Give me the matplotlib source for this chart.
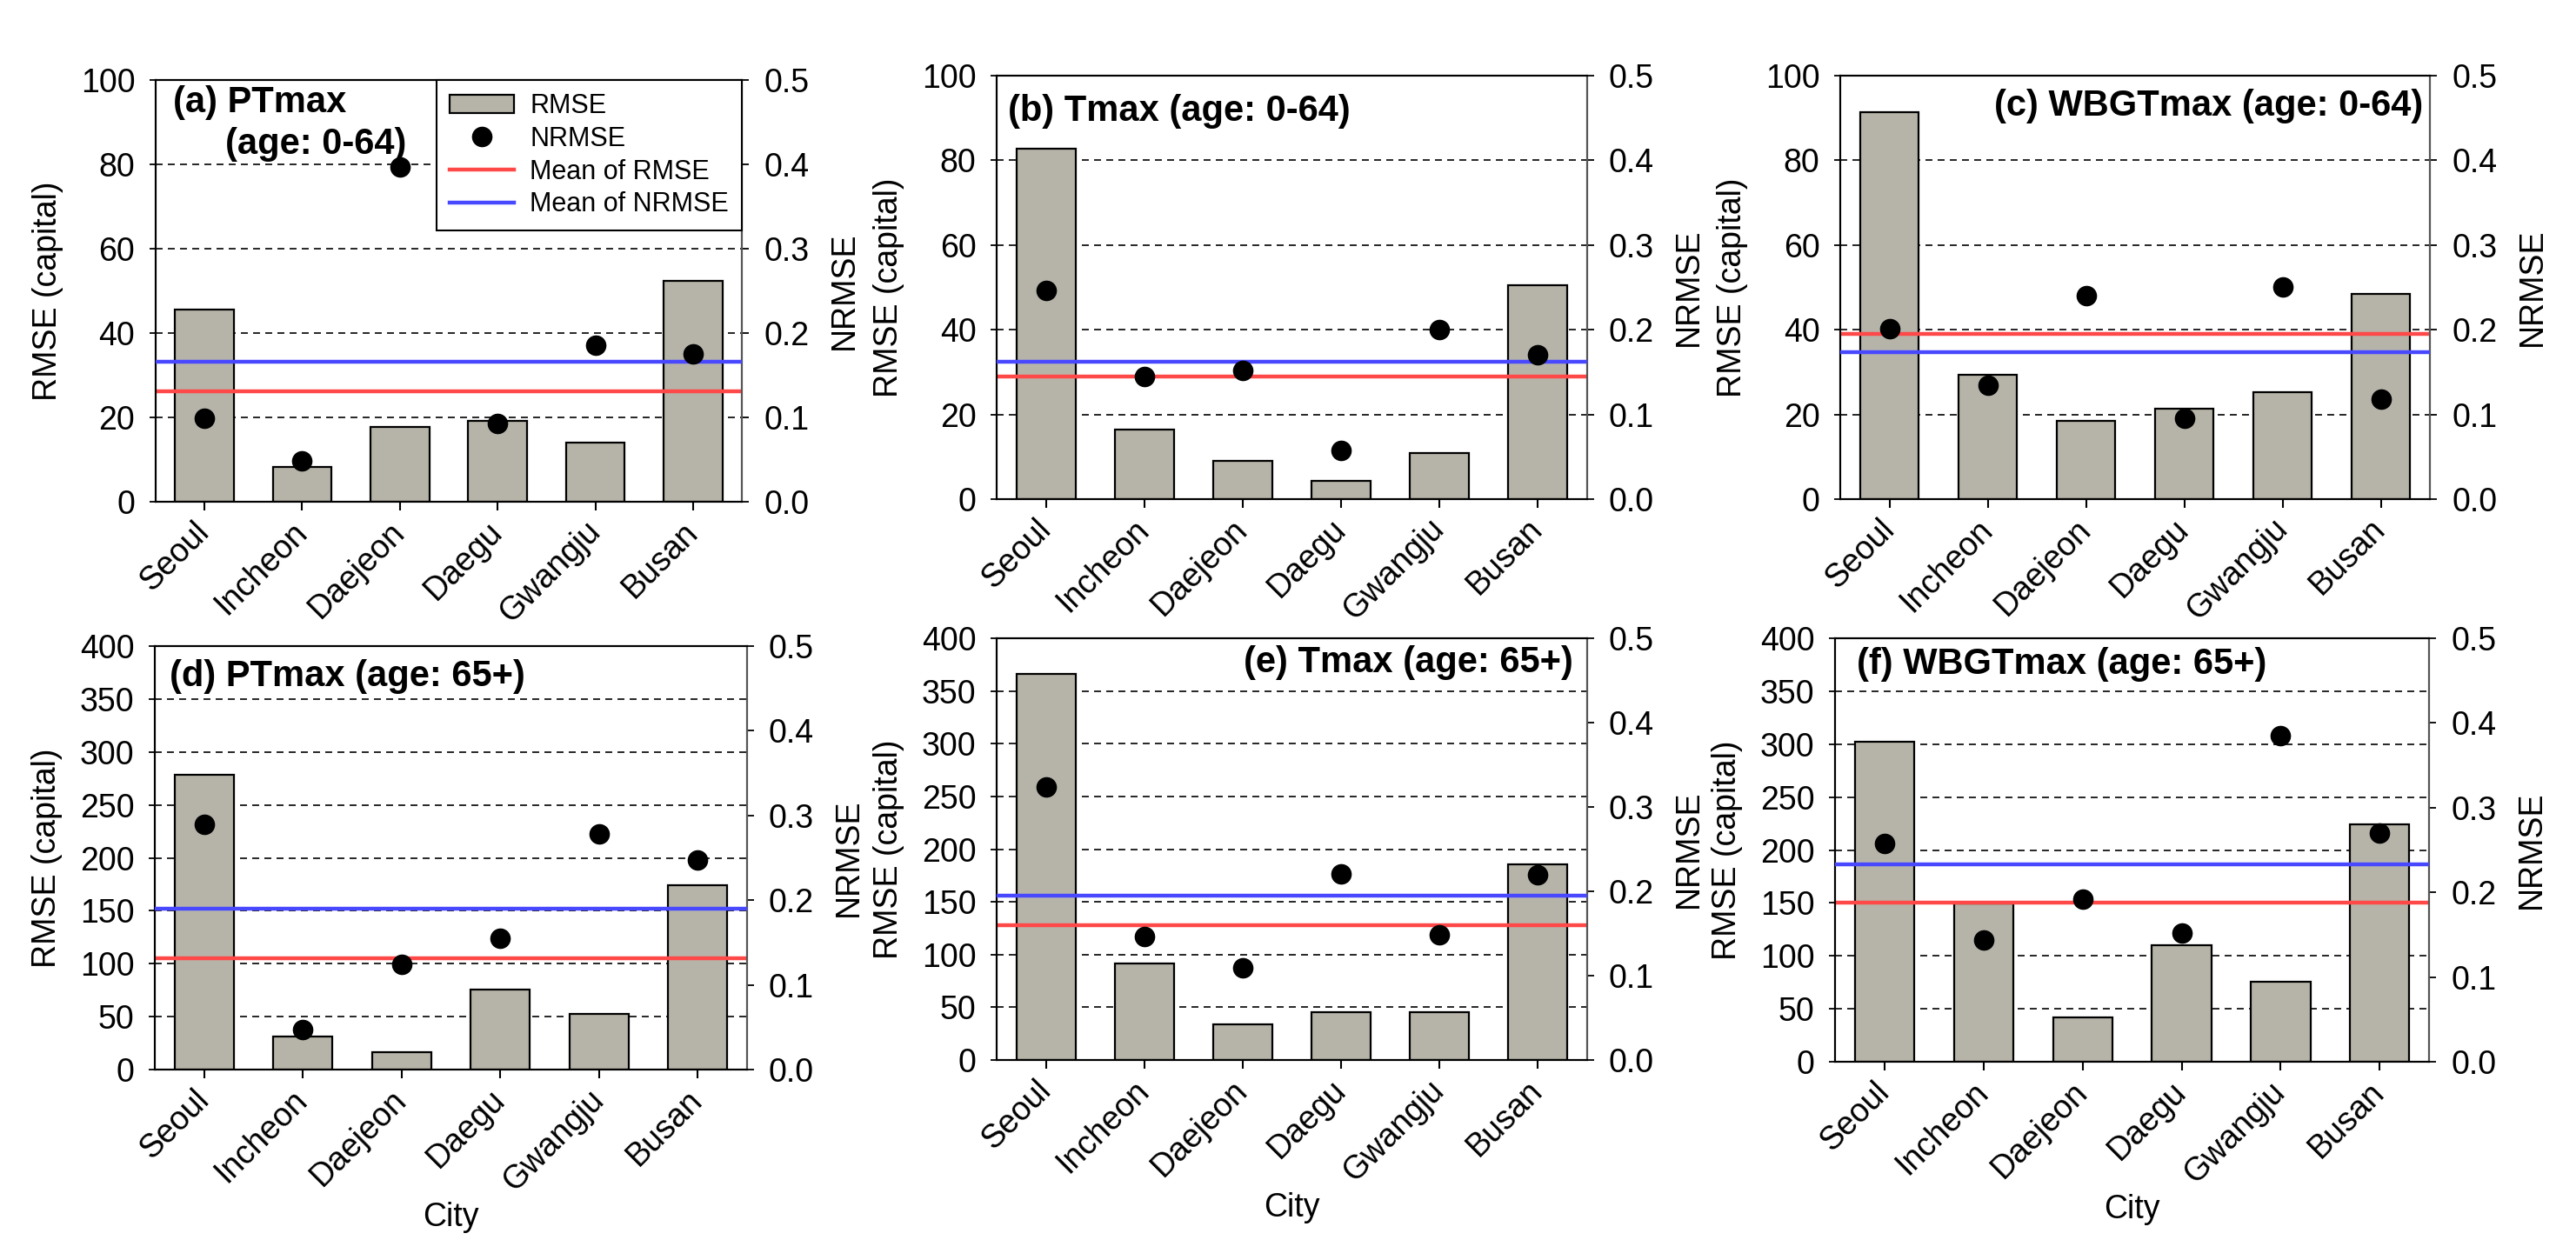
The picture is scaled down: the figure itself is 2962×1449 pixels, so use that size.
import matplotlib
matplotlib.use('Agg')
import matplotlib.pyplot as plt
from matplotlib.ticker import FormatStrFormatter, MultipleLocator
import numpy as np

plt.rcParams['font.family'] = ['Liberation Sans', 'DejaVu Sans']

cities = ['Seoul', 'Incheon', 'Daejeon', 'Daegu', 'Gwangju', 'Busan']

# age 0-64
rmse_ptmax_0_64 = [45.5, 8.3, 17.7, 19.2, 14.0, 52.4]
nrmse_ptmax_0_64 = [0.099, 0.048, 0.397, 0.093, 0.186, 0.175]
rmse_tmax_0_64 = [82.7, 16.4, 9.0, 4.2, 10.9, 50.4]
nrmse_tmax_0_64 = [0.246, 0.145, 0.152, 0.057, 0.200, 0.170]
rmse_wbgt_0_64 = [91.3, 29.4, 18.5, 21.4, 25.2, 48.4]
nrmse_wbgt_0_64 = [0.201, 0.134, 0.240, 0.095, 0.250, 0.118]

# age 65+
rmse_ptmax_65 = [278.7, 31.6, 16.8, 75.5, 53.0, 174.3]
nrmse_ptmax_65 = [0.290, 0.047, 0.124, 0.155, 0.278, 0.247]
rmse_tmax_65 = [366.6, 91.7, 34.1, 45.3, 45.3, 185.2]
nrmse_tmax_65 = [0.324, 0.146, 0.109, 0.221, 0.148, 0.220]
rmse_wbgt_65 = [302.3, 149.6, 41.6, 109.9, 75.6, 224.4]
nrmse_wbgt_65 = [0.258, 0.144, 0.192, 0.152, 0.385, 0.270]

BAR_COLOR = '#b6b4a8'
RED = '#ff4848'
BLUE = '#4848ff'
GRID = '#262626'
FS = 27

# (rect, rmse, nrmse, ymax, ystep, title lines, ha)
panels = [
    ([0.0604, 0.6018, 0.2276, 0.3347], rmse_ptmax_0_64, nrmse_ptmax_0_64, 100, 20,
     [('(a) PTmax', 0.030, 0.946), ('(age: 0-64)', 0.119, 0.847)], 'left'),
    ([0.3869, 0.6039, 0.2292, 0.3361], rmse_tmax_0_64, nrmse_tmax_0_64, 100, 20,
     [('(b) Tmax (age: 0-64)', 0.019, 0.916)], 'left'),
    ([0.7144, 0.6039, 0.2289, 0.3361], rmse_wbgt_0_64, nrmse_wbgt_0_64, 100, 20,
     [('(c) WBGTmax (age: 0-64)', 0.988, 0.928)], 'right'),
    ([0.0601, 0.1511, 0.2299, 0.3361], rmse_ptmax_65, nrmse_ptmax_65, 400, 50,
     [('(d) PTmax (age: 65+)', 0.025, 0.928)], 'left'),
    ([0.3869, 0.1587, 0.2292, 0.3347], rmse_tmax_65, nrmse_tmax_65, 400, 50,
     [('(e) Tmax (age: 65+)', 0.976, 0.942)], 'right'),
    ([0.7124, 0.1573, 0.2306, 0.3361], rmse_wbgt_65, nrmse_wbgt_65, 400, 50,
     [('(f) WBGTmax (age: 65+)', 0.037, 0.938)], 'left'),
]

fig = plt.figure(figsize=(29.62, 14.49), dpi=100)
x = np.arange(len(cities))

for i, (rect, rmse, nrmse, ymax, ystep, titles, ha) in enumerate(panels):
    ax = fig.add_axes(rect)
    ax2 = ax.twinx()

    bars = ax.bar(x, rmse, width=0.6, color=BAR_COLOR, edgecolor='black', linewidth=1.6)
    red = ax.axhline(np.mean(rmse), color=RED, lw=3.2, zorder=3)
    dots, = ax2.plot(x, nrmse, 'o', color='black', ms=16, zorder=4)
    blue = ax2.axhline(np.mean(nrmse), color=BLUE, lw=3.2, zorder=3)

    ax.set_xlim(-0.5, len(cities) - 0.5)
    ax.set_ylim(0, ymax)
    ax2.set_ylim(0, 0.5)
    ax.yaxis.set_major_locator(MultipleLocator(ystep))
    ax2.yaxis.set_major_locator(MultipleLocator(0.1))
    ax2.yaxis.set_major_formatter(FormatStrFormatter('%.1f'))

    # dashed grid on the RMSE ticks, hidden behind the bars
    ax.set_axisbelow(True)
    ax.yaxis.grid(True, color=GRID, linestyle=(0, (4.1, 3.1)), linewidth=1.4)

    ax.set_xticks(x)
    ax.set_xticklabels(cities, rotation=45, ha='right', va='center',
                       rotation_mode='anchor', fontsize=FS)
    ax.tick_params(axis='x', direction='out', length=7, width=1.5, pad=14)
    ax.tick_params(axis='y', direction='out', length=5, width=1.3, labelsize=FS, pad=12)
    ax2.tick_params(axis='y', direction='out', length=6, width=1.3, labelsize=FS, pad=12)

    for spine in list(ax.spines.values()) + list(ax2.spines.values()):
        spine.set_linewidth(1.5)
    ax2.spines['right'].set_color('#555555')

    ax.set_ylabel('RMSE (capital)', fontsize=FS, labelpad=14)
    ax2.set_ylabel('NRMSE', fontsize=FS, labelpad=16)
    if i >= 3:
        ax.set_xlabel('City', fontsize=FS, labelpad=4)

    for text, tx, ty in titles:
        ax2.text(tx, ty, text, transform=ax.transAxes, ha=ha, va='center',
                 fontsize=30, fontweight='bold', zorder=6)

    if i == 0:
        leg = ax2.legend([bars, dots, red, blue],
                         ['RMSE', 'NRMSE', 'Mean of RMSE', 'Mean of NRMSE'],
                         loc='upper right', borderaxespad=0, fontsize=22,
                         fancybox=False, framealpha=1, edgecolor='black',
                         handlelength=2.4, handletextpad=0.6, labelspacing=0.25,
                         borderpad=0.5)
        leg.get_frame().set_linewidth(1.5)
        leg.set_zorder(10)

fig.savefig('out.png', dpi=100, facecolor='white')
